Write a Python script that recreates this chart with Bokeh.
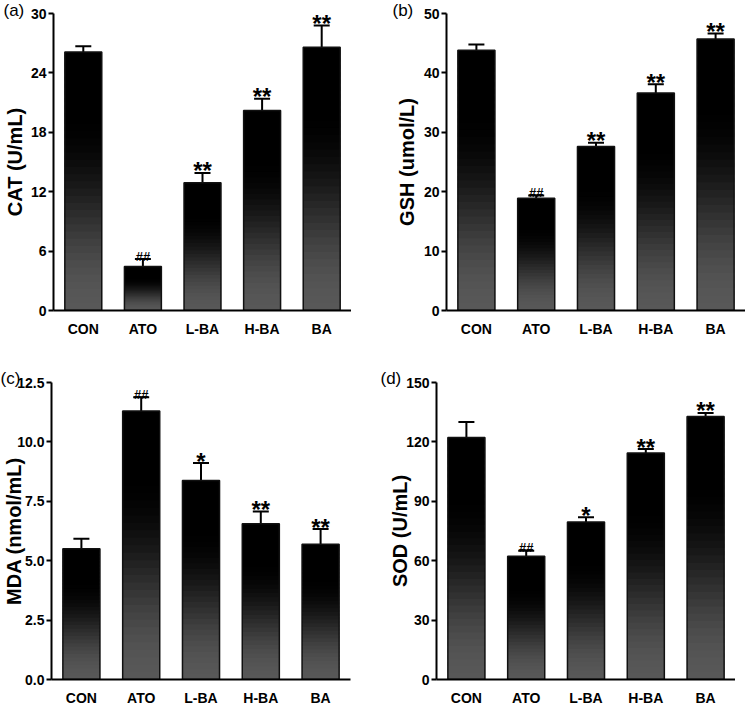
import math
from bokeh.plotting import figure
from bokeh.layouts import column, row
from bokeh.models import (ColumnDataSource, Whisker, TeeHead, FixedTicker,
                          PrintfTickFormatter, Range1d, FactorRange)
from bokeh.core.properties import value
from bokeh.embed import file_html
from bokeh.resources import INLINE

groups = ["CON", "ATO", "L-BA", "H-BA", "BA"]

cat_mean = [26.1, 4.45, 12.9, 20.2, 26.6]
cat_err = [0.6, 0.75, 1.0, 1.2, 2.2]
cat_marks = ["", "##", "**", "**", "**"]
cat_ticks = [0, 6, 12, 18, 24, 30]

gsh_mean = [43.8, 18.9, 27.6, 36.6, 45.7]
gsh_err = [1.0, 0.45, 0.65, 1.5, 0.95]
gsh_marks = ["", "##", "**", "**", "**"]
gsh_ticks = [0, 10, 20, 30, 40, 50]

mda_mean = [5.50, 11.30, 8.38, 6.55, 5.69]
mda_err = [0.42, 0.58, 0.73, 0.52, 0.64]
mda_marks = ["", "##", "*", "**", "**"]
mda_ticks = [0, 2.5, 5.0, 7.5, 10.0, 12.5]

sod_mean = [122.2, 62.2, 79.5, 114.4, 132.8]
sod_err = [7.8, 2.8, 2.5, 2.0, 1.8]
sod_marks = ["", "##", "*", "**", "**"]
sod_ticks = [0, 30, 60, 90, 120, 150]

FONT = value("Liberation Sans")
N_SLICES = 36
BAR_W = 0.62


def shade(f):
    t = min(f / 0.75, 1.0)
    g = int(round(88 * (1 + math.cos(math.pi * t)) / 2))
    return "#%02x%02x%02x" % (g, g, g)


def panel(tag, ylabel, means, errs, marks, ticks, fmt,
          bl, br, bt, bb, fw, fh, lab_standoff, tag_offset, tag_standoff):
    ymax = ticks[-1]
    p = figure(x_range=FactorRange(*groups, range_padding=0, factor_padding=0),
               y_range=Range1d(0, ymax),
               frame_width=fw, frame_height=fh,
               min_border_left=bl, min_border_right=br,
               min_border_top=bt, min_border_bottom=bb,
               output_backend="svg", toolbar_location=None)
    p.outline_line_color = None
    p.xgrid.grid_line_color = None
    p.ygrid.grid_line_color = None
    p.background_fill_color = "white"

    # panel tag, e.g. "(a)"
    p.title.text = tag
    p.title.align = "left"
    p.title.offset = tag_offset
    p.title.standoff = tag_standoff
    p.title.text_font = "Liberation Sans"
    p.title.text_font_style = "normal"
    p.title.text_font_size = "17px"
    p.title.text_color = "black"

    # gradient bars made of stacked slices
    xs, bots, tops, cols = [], [], [], []
    for g, v in zip(groups, means):
        for k in range(N_SLICES):
            f = (k + 0.5) / N_SLICES
            xs.append(g)
            bots.append(v * k / N_SLICES)
            tops.append(min(v, v * (k + 1.6) / N_SLICES))
            cols.append(shade(f))
    p.vbar(x=xs, bottom=bots, top=tops, width=BAR_W, fill_color=cols,
           line_color=None)
    p.vbar(x=groups, top=means, width=BAR_W, fill_color=None,
           line_color="#111111", line_width=1.5)

    upper = [m + e for m, e in zip(means, errs)]
    src = ColumnDataSource(dict(x=groups, lower=means, upper=upper))
    p.add_layout(Whisker(base="x", lower="lower", upper="upper", source=src,
                         line_width=2, line_color="black",
                         upper_head=TeeHead(size=16, line_width=2, line_color="black"),
                         lower_head=None))

    sx = [g for g, m in zip(groups, marks) if m.startswith("*")]
    sy = [u for u, m in zip(upper, marks) if m.startswith("*")]
    st = [m for m in marks if m.startswith("*")]
    p.text(x=sx, y=sy, text=st, text_font=FONT, text_font_style="bold",
           text_font_size="24px", text_align="center",
           text_baseline="alphabetic", y_offset=-2, text_color="black")
    hx = [g for g, m in zip(groups, marks) if m.startswith("#")]
    hy = [u for u, m in zip(upper, marks) if m.startswith("#")]
    ht = [m for m in marks if m.startswith("#")]
    p.text(x=hx, y=hy, text=ht, text_font=FONT, text_font_style="bold",
           text_font_size="13px", text_align="center",
           text_baseline="alphabetic", y_offset=-3, text_color="black")

    for ax in (p.xaxis[0], p.yaxis[0]):
        ax.axis_line_width = 2
        ax.axis_line_color = "black"
        ax.major_label_text_font = "Liberation Sans"
        ax.major_label_text_font_style = "bold"
        ax.major_label_text_font_size = "14px"
        ax.major_label_text_color = "black"
        ax.minor_tick_line_color = None
    p.xaxis.major_tick_line_color = None
    p.xaxis.major_label_standoff = 4
    p.yaxis.ticker = FixedTicker(ticks=ticks)
    if fmt:
        p.yaxis.formatter = PrintfTickFormatter(format=fmt)
    p.yaxis.major_tick_out = 5
    p.yaxis.major_tick_in = 0
    p.yaxis.major_tick_line_width = 2
    p.yaxis.major_tick_line_color = "black"
    p.yaxis.major_label_standoff = 2
    p.yaxis.axis_label = ylabel
    p.yaxis.axis_label_text_font = "Liberation Sans"
    p.yaxis.axis_label_text_font_style = "bold"
    p.yaxis.axis_label_text_font_size = "20px"
    p.yaxis.axis_label_text_color = "black"
    p.yaxis.axis_label_standoff = lab_standoff
    return p


pa = panel("(a)", "CAT (U/mL)", cat_mean, cat_err, cat_marks, cat_ticks, None,
           44, 0, 13, 60, 298, 297, 2, -50, -12)
pb = panel("(b)", "GSH (umol/L)", gsh_mean, gsh_err, gsh_marks, gsh_ticks, None,
           95, 0, 13, 60, 299, 297, 3, -54, -12)
pc = panel("(c)", "MDA (nmol/mL)", mda_mean, mda_err, mda_marks, mda_ticks, "%.1f",
           51, 1, 12, 21, 299, 297, -11, -51, -11)
pd_ = panel("(d)", "SOD (U/mL)", sod_mean, sod_err, sod_marks, sod_ticks, None,
            85, 0, 12, 21, 299, 297, -8, -56, -11)

layout = column(row(pa, pb), row(pc, pd_))
open("out.html", "w").write(file_html(layout, INLINE))
